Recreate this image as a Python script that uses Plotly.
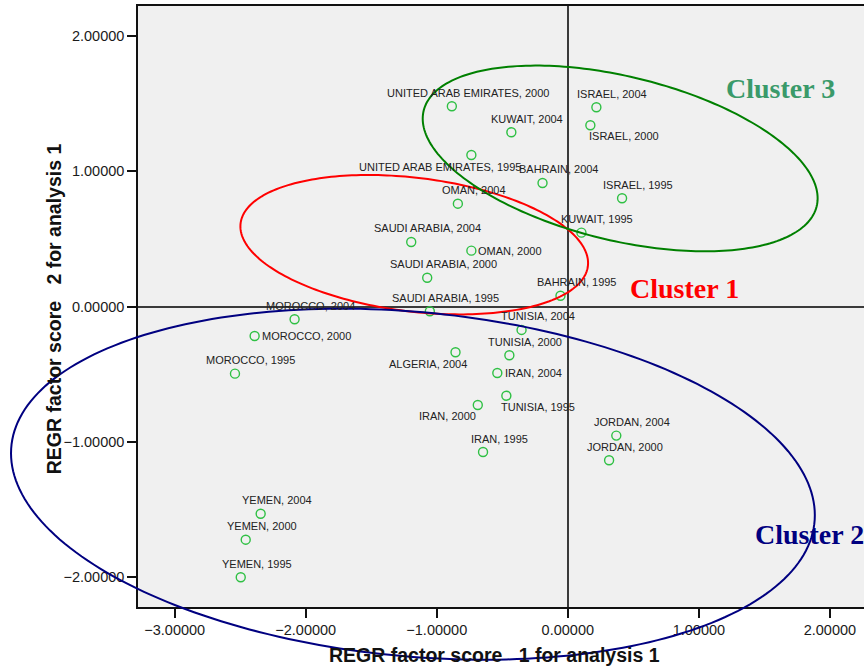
import numpy as np
import plotly.graph_objects as go

# ---------------- data ----------------
countries = ["UNITED ARAB EMIRATES", "KUWAIT", "UNITED ARAB EMIRATES", "BAHRAIN", "OMAN",
             "KUWAIT", "SAUDI ARABIA", "OMAN", "SAUDI ARABIA", "BAHRAIN", "SAUDI ARABIA",
             "ISRAEL", "ISRAEL", "ISRAEL", "TUNISIA", "ALGERIA", "TUNISIA", "IRAN",
             "TUNISIA", "IRAN", "IRAN", "JORDAN", "JORDAN", "MOROCCO", "MOROCCO",
             "MOROCCO", "YEMEN", "YEMEN", "YEMEN"]
years = [2000, 2004, 1995, 2004, 2004,
         1995, 2004, 2000, 2000, 1995, 1995,
         2004, 2000, 1995, 2004, 2004, 2000, 2004,
         1995, 2000, 1995, 2004, 2000, 2004, 2000,
         1995, 2004, 2000, 1995]
factor1 = [-0.885, -0.431, -0.736, -0.193, -0.839,
           0.104, -1.195, -0.736, -1.073, -0.056, -1.053,
           0.218, 0.172, 0.414, -0.353, -0.857, -0.446, -0.538,
           -0.469, -0.687, -0.647, 0.370, 0.315, -2.085, -2.390,
           -2.540, -2.344, -2.458, -2.496]
factor2 = [1.481, 1.289, 1.121, 0.914, 0.761,
           0.547, 0.478, 0.414, 0.214, 0.081, -0.034,
           1.474, 1.341, 0.801, -0.172, -0.337, -0.359, -0.490,
           -0.658, -0.727, -1.074, -0.953, -1.135, -0.093, -0.217,
           -0.495, -1.530, -1.722, -2.000]
labels = [f"{c}, {y}" for c, y in zip(countries, years)]

x_ticks = [-3, -2, -1, 0, 1, 2]
y_ticks = [-2, -1, 0, 1, 2]
x_title = "REGR factor score\u00a0\u00a0\u00a01 for analysis 1"
y_title = "REGR factor score\u00a0\u00a0\u00a02 for analysis 1"

# cluster ellipses: centre x, centre y, half-width, half-height, tilt
cluster_names = ["Cluster 1", "Cluster 2", "Cluster 3"]
cluster_cx = [-1.172, -1.182, 0.3995]
cluster_cy = [0.458, -1.312, 1.0953]
cluster_w = [1.3265, 3.067, 1.5068]
cluster_h = [0.5151, 1.2971, 0.6863]
cluster_k = [-0.1353, -0.2291, -0.2942]
cluster_label_x = [0.887, 1.4155, 1.621]
cluster_label_y = [0.136, -1.680, 1.615]

# ---------------- styling ----------------
# figure is slightly wider than the window so the plot's right border falls off-page
X_RANGE = [-3.280, 2.306]
Y_RANGE = [-2.2195, 2.222]
ellipse_colors = ["#ff0000", "#000080", "#008000"]
cluster_text_colors = ["#ff0000", "#000080", "#3a9a6a"]
cluster_anchor = ["center", "left", "center"]

default_place = (16, 13.5, "center")
special_place = {
    "UNITED ARAB EMIRATES, 1995": (-31, -12, "center"),
    "OMAN, 2000": (5, 0, "left"),
    "ISRAEL, 2000": (34, -11, "center"),
    "ALGERIA, 2004": (-28, -12, "center"),
    "IRAN, 2004": (6, 0, "left"),
    "TUNISIA, 1995": (32, -11, "center"),
    "IRAN, 2000": (-30, -11, "center"),
    "MOROCCO, 2000": (5, 0, "left"),
}

sans = "Arial, 'Liberation Sans', sans-serif"
serif = "'Times New Roman', 'Liberation Serif', serif"

fig = go.Figure()
fig.add_trace(go.Scatter(
    x=factor1, y=factor2, mode="markers",
    marker=dict(symbol="circle-open", size=9, color="#2fc044", line=dict(width=1.4, color="#2fc044")),
    hoverinfo="text", text=labels, showlegend=False, cliponaxis=False,
))

annotations = []
for lab, xv, yv in zip(labels, factor1, factor2):
    xs, ys, xa = special_place.get(lab, default_place)
    annotations.append(dict(x=xv, y=yv, xref="x", yref="y", text=lab, showarrow=False,
                            xshift=xs, yshift=ys, xanchor=xa, yanchor="middle",
                            font=dict(family=sans, size=11, color="#222222")))

for name, lx, ly, col, anc in zip(cluster_names, cluster_label_x, cluster_label_y,
                                   cluster_text_colors, cluster_anchor):
    annotations.append(dict(x=lx, y=ly, xref="x", yref="y", text=f"<b>{name}</b>", showarrow=False,
                            xanchor=anc, yanchor="middle",
                            font=dict(family=serif, size=28, color=col)))

PLOT_W = 872 - 138
annotations.append(dict(x=(495.5 - 138) / PLOT_W, y=-0.0799, xref="paper", yref="paper",
                        text=f"<b>{x_title}</b>",
                        showarrow=False, xanchor="center", yanchor="middle",
                        font=dict(family=sans, size=19.5, color="#111111")))
annotations.append(dict(x=(54 - 138) / PLOT_W, y=0.4958, xref="paper", yref="paper",
                        text=f"<b>{y_title}</b>",
                        showarrow=False, xanchor="center", yanchor="middle", textangle=-90,
                        font=dict(family=sans, size=19.5, color="#111111")))

shapes = []
t = np.linspace(0, 2 * np.pi, 241)
for cx, cy, w, h, k, col in zip(cluster_cx, cluster_cy, cluster_w, cluster_h, cluster_k, ellipse_colors):
    ex = cx + w * np.cos(t)
    ey = cy + k * np.cos(t) + np.sqrt(h * h - k * k) * np.sin(t)
    px = (ex - X_RANGE[0]) / (X_RANGE[1] - X_RANGE[0])
    py = (ey - Y_RANGE[0]) / (Y_RANGE[1] - Y_RANGE[0])
    path = "M " + " L ".join(f"{a:.5f},{b:.5f}" for a, b in zip(px, py)) + " Z"
    shapes.append(dict(type="path", path=path, xref="paper", yref="paper",
                       line=dict(color=col, width=2), fillcolor="rgba(0,0,0,0)", layer="above"))

axis_common = dict(
    showgrid=False, zeroline=True, zerolinecolor="#3a3a3a", zerolinewidth=1.5,
    showline=True, linecolor="#111111", linewidth=1.5, mirror=True,
    ticks="outside", ticklen=9, tickwidth=2, tickcolor="#111111",
    tickformat=".5f", tickfont=dict(family=sans, size=14.5, color="#1a1a1a"),
)

fig.update_layout(
    width=872, height=668,
    margin=dict(l=138, r=0, t=6, b=61),
    paper_bgcolor="white", plot_bgcolor="#f0f0f0",
    xaxis=dict(range=X_RANGE, tickvals=x_ticks, **axis_common),
    yaxis=dict(range=Y_RANGE, tickvals=y_ticks, **axis_common),
    annotations=annotations, shapes=shapes,
    showlegend=False,
)

fig.write_html("out.html", config={"displayModeBar": False},
               post_script="document.body.style.margin='0';document.body.style.overflow='hidden';")
